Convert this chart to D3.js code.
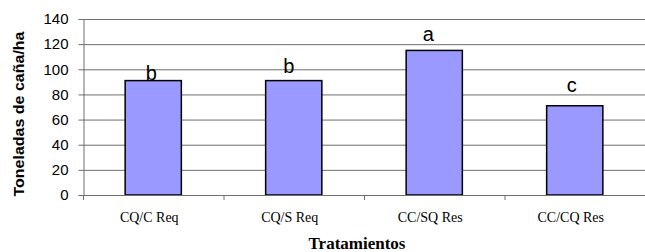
<!DOCTYPE html>
<html>
<head>
<meta charset="utf-8">
<script src="https://cdn.jsdelivr.net/npm/d3@7.9.0/dist/d3.min.js"></script>
<style>
  body { margin: 0; background: #fff; }
  svg { display: block; }
</style>
</head>
<body>
<svg width="645" height="252"></svg>
<script>
// data
const categories = ['CQ/C Req', 'CQ/S Req', 'CC/SQ Res', 'CC/CQ Res'];
const values = [91, 91, 115, 71];
const letters = ['b', 'b', 'a', 'c'];
const yTicks = [0, 20, 40, 60, 80, 100, 120, 140];

// layout
const margin = { top: 19, right: 0, bottom: 57, left: 83 };
const width = 645, height = 252;
// small nudges for the significance letters (px above bar, px horizontal)
const letterRise = [1, 8, 9, 14];
const letterShift = [-2, -5, -6, -3];

const svg = d3.select('svg');

let x = d3.scaleBand()
  .domain(categories)
  .range([margin.left, width - margin.right])
  .paddingInner(0.6)
  .paddingOuter(0.3);

let y = d3.scaleLinear()
  .domain([0, 140])
  .range([height - margin.bottom, margin.top]);

// gridlines
svg.append('g')
  .selectAll('line')
  .data(yTicks.filter(d => d > 0))
  .join('line')
  .attr('x1', margin.left)
  .attr('x2', width)
  .attr('y1', d => y(d) + 0.5)
  .attr('y2', d => y(d) + 0.5)
  .attr('stroke', '#6e6e6e')
  .attr('stroke-width', 1);

// y axis
let yAxis = svg.append('g')
  .attr('transform', `translate(${margin.left + 0.5},0)`)
  .call(d3.axisLeft(y).tickValues(yTicks).tickSize(5).tickPadding(10));
yAxis.select('.domain').attr('stroke', '#6e6e6e');
yAxis.selectAll('.tick line').attr('stroke', '#6e6e6e');
yAxis.selectAll('.tick text')
  .attr('font-family', 'Arial, "Liberation Sans", sans-serif')
  .attr('font-size', 15)
  .attr('fill', '#000');

// bars
svg.append('g')
  .selectAll('rect')
  .data(values)
  .join('rect')
  .attr('x', (d, i) => x(categories[i]))
  .attr('y', d => y(d))
  .attr('width', x.bandwidth())
  .attr('height', d => y(0) - y(d))
  .attr('fill', '#9999ff')
  .attr('stroke', '#000')
  .attr('stroke-width', 1.5);

// x axis (ticks between categories)
let boundaries = categories.map((c, i) => margin.left + i * x.step());
let xAxisG = svg.append('g');
xAxisG.append('line')
  .attr('x1', margin.left)
  .attr('x2', width)
  .attr('y1', y(0) + 0.5)
  .attr('y2', y(0) + 0.5)
  .attr('stroke', '#6e6e6e');
xAxisG.selectAll('.xt')
  .data(boundaries)
  .join('line')
  .attr('class', 'xt')
  .attr('x1', d => d + 0.5)
  .attr('x2', d => d + 0.5)
  .attr('y1', y(0))
  .attr('y2', y(0) + 5)
  .attr('stroke', '#6e6e6e');

xAxisG.selectAll('text')
  .data(categories)
  .join('text')
  .attr('x', d => x(d) + x.bandwidth() / 2 - 4)
  .attr('y', y(0) + 27)
  .attr('text-anchor', 'middle')
  .attr('font-family', '"Liberation Serif", "Times New Roman", serif')
  .attr('font-size', 14)
  .text(d => d);

// significance letters
svg.append('g')
  .selectAll('text')
  .data(letters)
  .join('text')
  .attr('x', (d, i) => x(categories[i]) + x.bandwidth() / 2 + letterShift[i])
  .attr('y', (d, i) => y(values[i]) - letterRise[i])
  .attr('text-anchor', 'middle')
  .attr('font-family', 'Arial, "Liberation Sans", sans-serif')
  .attr('font-size', 20)
  .text(d => d);

// axis titles
svg.append('text')
  .attr('x', 357)
  .attr('y', 249)
  .attr('text-anchor', 'middle')
  .attr('font-family', '"Liberation Serif", "Times New Roman", serif')
  .attr('font-weight', 'bold')
  .attr('font-size', 17)
  .text('Tratamientos');

svg.append('text')
  .attr('transform', 'translate(24,114) rotate(-90)')
  .attr('text-anchor', 'middle')
  .attr('font-family', 'Arial, "Liberation Sans", sans-serif')
  .attr('font-weight', 'bold')
  .attr('font-size', 14)
  .attr('textLength', 165)
  .attr('lengthAdjust', 'spacingAndGlyphs')
  .text('Toneladas de caña/ha');
</script>
</body>
</html>
